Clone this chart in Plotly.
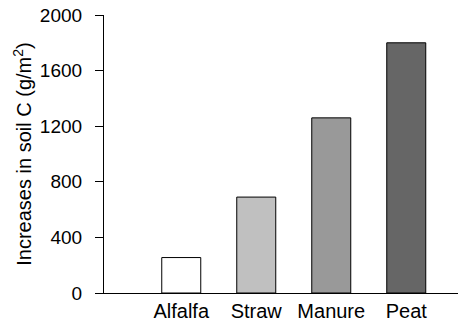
import plotly.graph_objects as go

categories = ["Alfalfa", "Straw", "Manure", "Peat"]
values = [255, 690, 1260, 1800]
colors = ["#ffffff", "#c0c0c0", "#999999", "#666666"]
y_ticks = [0, 400, 800, 1200, 1600, 2000]
y_tick_labels = ["0", "400", "800", "1200", "1600", "2000"]

fig = go.Figure()
fig.add_trace(go.Bar(
    x=categories, y=values,
    marker=dict(color=colors, line=dict(color="black", width=1)),
    width=0.52,
))

font = dict(family="Liberation Sans, Arial, sans-serif", size=19, color="black")
pad = "\u00a0\u2009"
# page body has an 8px margin, so the figure is drawn 8px smaller
fig.update_layout(
    width=458, height=316,
    margin=dict(l=96, r=2, t=7, b=31),
    paper_bgcolor="white", plot_bgcolor="white",
    showlegend=False,
    font=font,
    xaxis=dict(
        type="category", range=[-1.03, 3.77],
        showline=True, linecolor="black", linewidth=1,
        ticks="", tickfont=dict(size=20), automargin=False,
        showgrid=False, zeroline=False, fixedrange=True,
    ),
    yaxis=dict(
        range=[0, 2000], tickvals=y_ticks,
        ticktext=[t + pad for t in y_tick_labels],
        showline=True, linecolor="black", linewidth=1,
        ticks="outside", ticklen=8, tickcolor="black",
        ticklabeloverflow="allow", tickfont=dict(size=19), automargin=False,
        showgrid=False, zeroline=False,
        title=dict(text="Increases in soil C (g/m<sup>2</sup>)", standoff=2, font=dict(size=20)),
    ),
)
fig.write_html("out.html")
